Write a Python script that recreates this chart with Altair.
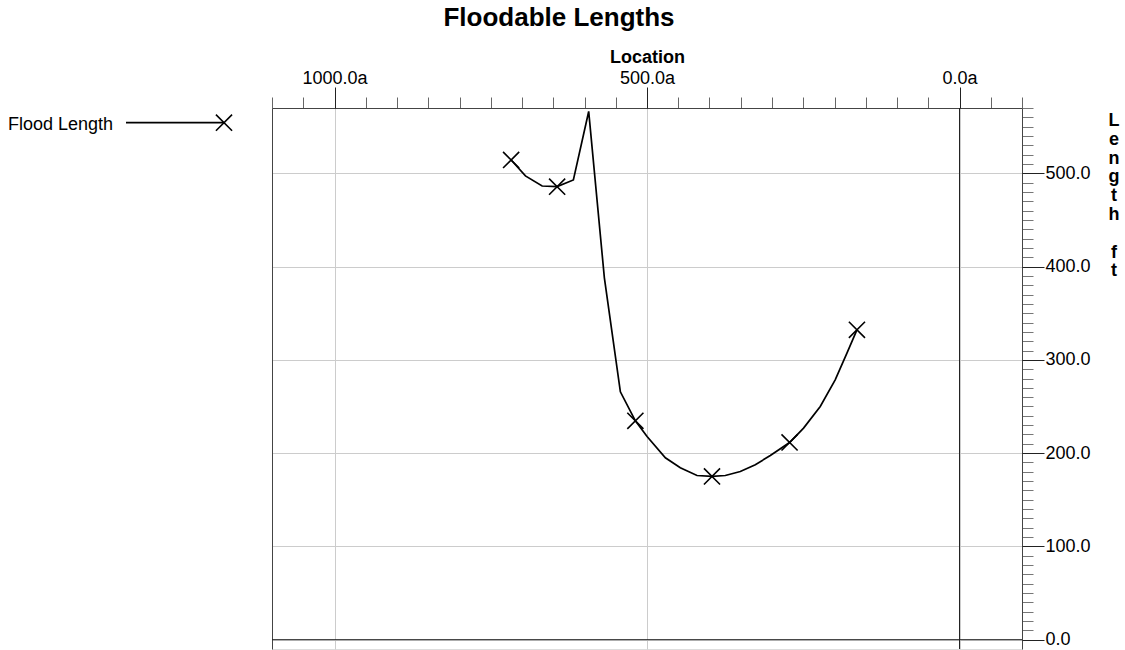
import altair as alt
import pandas as pd

# Floodable length curve: location along the hull (ft) and floodable length (ft)
curve_location = [717.4, 694.5, 667.8, 643.8, 617.8, 593.3, 568.2, 542.6, 518.6,
                  499.9, 470.6, 446.7, 420.0, 396.0, 374.7, 350.7, 326.7, 302.7,
                  271.9, 249.5, 222.8, 198.9, 180.1, 164.1]
curve_length = [514.3, 497.2, 486.4, 485.7, 492.9, 566.3, 387.9, 265.7, 234.6,
                217.8, 195.0, 184.3, 176.0, 175.0, 176.0, 180.3, 187.5, 197.5,
                211.4, 226.8, 250.0, 278.6, 307.2, 332.2]

# Stations marked with a cross
marker_location = [717.4, 643.8, 518.6, 396.0, 271.9, 164.1]
marker_length = [514.3, 485.7, 234.6, 175.0, 211.4, 332.2]

# Axis ticks
x_major_ticks = [1000, 500, 0]
x_minor_ticks = list(range(-100, 1101, 50))
y_major_ticks = [0, 100, 200, 300, 400, 500]
y_minor_ticks = list(range(0, 571, 10))

series_name = "Flood Length"
y_title_words = ["Length", "ft"]

FONT = "Liberation Sans"
CROSS = "M-1,-1L1,1M-1,1L1,-1"
INK = "#000000"
LINE_H = 18.8

curve_df = pd.DataFrame({"loc": curve_location, "len": curve_length,
                         "idx": list(range(len(curve_location)))})
marker_df = pd.DataFrame({"loc": marker_location, "len": marker_length})

x_scale = alt.Scale(domain=[-100, 1100], reverse=True, nice=False, zero=False)
y_scale = alt.Scale(domain=[-10, 570], nice=False, zero=False)

x_minor_axis = alt.Axis(orient="top", values=x_minor_ticks, labels=False, tickSize=11,
                        tickColor="#666666", tickWidth=1, grid=False, domain=True,
                        domainColor="#444444", domainWidth=1, title=None)
x_major_axis = alt.Axis(orient="top", values=x_major_ticks,
                        labelExpr="format(datum.value, '.1f') + 'a'",
                        tickSize=21, tickColor="#222222", tickWidth=1,
                        labelPadding=0, labelFontSize=18, labelFont=FONT,
                        labelColor="#000000", labelFlush=False, labelOverlap=False,
                        grid=True, gridColor="#cccccc", gridWidth=1, domain=False,
                        title="Location", titleFontSize=18, titleFont=FONT,
                        titleFontWeight="bold", titleColor="#000000", titlePadding=3)
y_minor_axis = alt.Axis(orient="right", values=y_minor_ticks, labels=False, tickSize=11,
                        tickColor="#777777", tickWidth=1, grid=False, domain=True,
                        domainColor="#444444", domainWidth=1, title=None)
y_major_axis = alt.Axis(orient="right", values=y_major_ticks, format=".1f",
                        tickSize=22, tickColor="#222222", tickWidth=1,
                        labelPadding=1, labelFontSize=18, labelFont=FONT,
                        labelColor="#000000", labelFlush=False, labelOverlap=False,
                        grid=True, gridColor="#cccccc", gridWidth=1, domain=False,
                        title=None)
y_left_axis = alt.Axis(orient="left", labels=False, ticks=False, grid=False, domain=True,
                       domainColor="#444444", domainWidth=1, title=None)

curve = alt.Chart(curve_df).mark_line(color=INK, strokeWidth=1.7).encode(
    x=alt.X("loc:Q", scale=x_scale, axis=x_minor_axis),
    y=alt.Y("len:Q", scale=y_scale, axis=y_minor_axis),
    order="idx:Q",
)

markers = alt.Chart(marker_df).mark_point(
    shape=CROSS, size=260, filled=False, color=INK, strokeWidth=1.6, opacity=1
).encode(
    x=alt.X("loc:Q", scale=x_scale, axis=x_major_axis),
    y=alt.Y("len:Q", scale=y_scale, axis=y_major_axis),
)

zero_x = alt.Chart(pd.DataFrame({"loc": [0]})).mark_rule(color="#222222", strokeWidth=1).encode(
    x=alt.X("loc:Q", scale=x_scale, axis=None)
)
zero_y = alt.Chart(pd.DataFrame({"len": [0]})).mark_rule(color="#222222", strokeWidth=1).encode(
    y=alt.Y("len:Q", scale=y_scale, axis=y_left_axis)
)

# Vertical axis title: each word stacked one letter per line, a blank line between words
title_layers = []
line_no = 0
for word in y_title_words:
    title_layers.append(
        alt.Chart(pd.DataFrame({"t": ["\n".join(word)]})).mark_text(
            align="center", baseline="alphabetic", fontSize=18, font=FONT,
            fontWeight="bold", color="#000000", lineBreak="\n", lineHeight=LINE_H
        ).encode(text="t:N", x=alt.value(842), y=alt.value(18 + line_no * LINE_H))
    )
    line_no += len(word) + 1

# Legend drawn to the left of the plot: label, line sample and cross
legend_text = alt.Chart(pd.DataFrame({"t": [series_name]})).mark_text(
    align="left", baseline="alphabetic", fontSize=18, font=FONT, color="#000000"
).encode(text="t:N", x=alt.value(-264), y=alt.value(22))
legend_line = alt.Chart(pd.DataFrame({"t": [series_name]})).mark_rule(
    color=INK, strokeWidth=1.7
).encode(x=alt.value(-146), x2=alt.value(-48), y=alt.value(14.7))
legend_mark = alt.Chart(pd.DataFrame({"t": [series_name]})).mark_point(
    shape=CROSS, size=260, filled=False, color=INK, strokeWidth=1.6, opacity=1
).encode(x=alt.value(-48), y=alt.value(14.7))

chart = alt.layer(
    zero_x, zero_y, curve, markers, *title_layers, legend_text, legend_line, legend_mark
).resolve_scale(
    x="shared", y="shared"
).resolve_axis(
    x="independent", y="independent"
).properties(
    width=750,
    height=541,
    autosize=alt.AutoSizeParams(type="none"),
    padding={"left": 272, "top": 108, "right": 103, "bottom": 1},
    title=alt.TitleParams("Floodable Lengths", fontSize=26, fontWeight="bold", font=FONT,
                          color="#000000", anchor="middle", frame="group", dx=-88,
                          dy=25, baseline="alphabetic", offset=21),
).configure_view(stroke=None).configure(font=FONT, background="white")

chart.save("out.html", embed_options={"renderer": "svg", "actions": False})
